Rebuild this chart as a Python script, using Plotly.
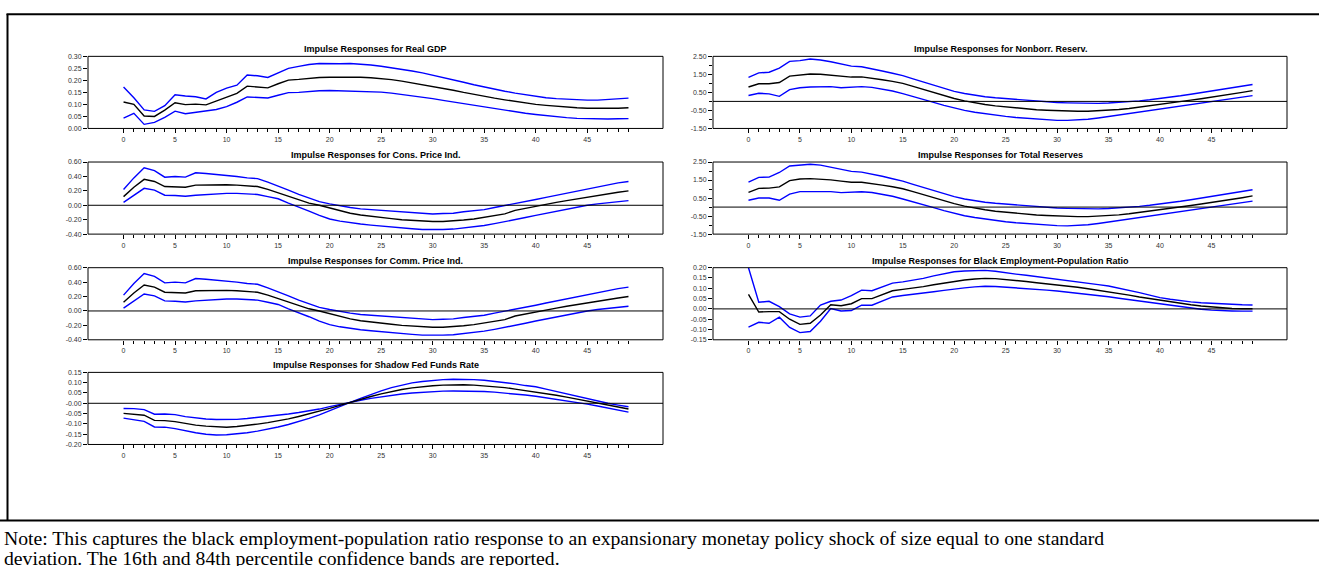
import plotly.graph_objects as go

# ---------------- data ----------------
horizon = list(range(50))
x_tick_vals = [0, 5, 10, 15, 20, 25, 30, 35, 40, 45]
x_tick_text = ["0", "5", "10", "15", "20", "25", "30", "35", "40", "45"]

gdp_upper = [0.172, 0.128, 0.077, 0.071, 0.095, 0.140, 0.135, 0.132, 0.123, 0.150, 0.168, 0.180, 0.222, 0.219, 0.212, 0.232, 0.250, 0.258, 0.266, 0.270, 0.268, 0.269, 0.270, 0.268, 0.264, 0.259, 0.253, 0.246, 0.239, 0.231, 0.222, 0.212, 0.202, 0.192, 0.182, 0.172, 0.163, 0.155, 0.147, 0.140, 0.133, 0.128, 0.124, 0.121, 0.119, 0.118, 0.118, 0.120, 0.123, 0.126]
gdp_center = [0.110, 0.100, 0.052, 0.050, 0.076, 0.107, 0.099, 0.101, 0.098, 0.113, 0.129, 0.146, 0.176, 0.173, 0.169, 0.186, 0.201, 0.204, 0.209, 0.212, 0.213, 0.214, 0.215, 0.213, 0.211, 0.208, 0.203, 0.197, 0.190, 0.183, 0.176, 0.168, 0.159, 0.150, 0.141, 0.133, 0.126, 0.119, 0.112, 0.106, 0.100, 0.096, 0.092, 0.089, 0.086, 0.084, 0.083, 0.083, 0.084, 0.086]
gdp_lower = [0.043, 0.063, 0.017, 0.025, 0.046, 0.072, 0.061, 0.067, 0.072, 0.079, 0.091, 0.109, 0.131, 0.128, 0.127, 0.138, 0.149, 0.150, 0.154, 0.157, 0.158, 0.157, 0.156, 0.155, 0.153, 0.151, 0.147, 0.142, 0.136, 0.130, 0.124, 0.117, 0.110, 0.103, 0.096, 0.089, 0.082, 0.076, 0.069, 0.063, 0.058, 0.053, 0.049, 0.045, 0.042, 0.040, 0.039, 0.039, 0.040, 0.041]

nbr_upper = [1.33, 1.58, 1.62, 1.85, 2.22, 2.26, 2.35, 2.30, 2.20, 2.08, 1.96, 1.92, 1.82, 1.69, 1.56, 1.43, 1.25, 1.07, 0.90, 0.72, 0.56, 0.44, 0.34, 0.26, 0.20, 0.15, 0.11, 0.06, 0.02, -0.02, -0.06, -0.08, -0.10, -0.11, -0.11, -0.09, -0.06, -0.02, 0.03, 0.09, 0.15, 0.23, 0.31, 0.40, 0.49, 0.58, 0.67, 0.76, 0.85, 0.94]
nbr_center = [0.80, 0.98, 0.98, 1.05, 1.40, 1.48, 1.52, 1.51, 1.47, 1.40, 1.35, 1.36, 1.30, 1.20, 1.11, 1.00, 0.83, 0.66, 0.48, 0.32, 0.16, 0.03, -0.08, -0.17, -0.25, -0.31, -0.37, -0.42, -0.46, -0.49, -0.52, -0.54, -0.55, -0.55, -0.53, -0.50, -0.45, -0.39, -0.32, -0.25, -0.17, -0.09, -0.01, 0.07, 0.15, 0.23, 0.32, 0.41, 0.50, 0.60]
nbr_lower = [0.33, 0.45, 0.42, 0.28, 0.65, 0.76, 0.80, 0.82, 0.82, 0.76, 0.78, 0.82, 0.78, 0.70, 0.58, 0.43, 0.28, 0.13, -0.05, -0.22, -0.38, -0.50, -0.60, -0.69, -0.77, -0.83, -0.89, -0.94, -0.99, -1.02, -1.05, -1.05, -1.03, -0.99, -0.92, -0.84, -0.76, -0.68, -0.60, -0.52, -0.44, -0.36, -0.28, -0.20, -0.12, -0.04, 0.05, 0.14, 0.23, 0.32]

cpi_upper = [0.22, 0.38, 0.52, 0.48, 0.39, 0.40, 0.39, 0.45, 0.44, 0.43, 0.42, 0.40, 0.38, 0.37, 0.32, 0.27, 0.21, 0.15, 0.10, 0.05, 0.02, -0.01, -0.03, -0.05, -0.06, -0.07, -0.08, -0.09, -0.10, -0.11, -0.12, -0.115, -0.11, -0.09, -0.075, -0.06, -0.03, -0.005, 0.02, 0.05, 0.08, 0.11, 0.14, 0.17, 0.20, 0.23, 0.26, 0.29, 0.31, 0.33]
cpi_center = [0.12, 0.25, 0.36, 0.33, 0.26, 0.26, 0.25, 0.28, 0.285, 0.29, 0.285, 0.28, 0.27, 0.26, 0.22, 0.17, 0.12, 0.07, 0.03, 0.00, -0.04, -0.08, -0.11, -0.135, -0.155, -0.17, -0.185, -0.20, -0.21, -0.22, -0.225, -0.225, -0.22, -0.205, -0.19, -0.17, -0.145, -0.12, -0.07, -0.04, -0.015, 0.01, 0.04, 0.065, 0.09, 0.115, 0.14, 0.16, 0.18, 0.20]
cpi_lower = [0.04, 0.14, 0.235, 0.21, 0.14, 0.135, 0.125, 0.14, 0.15, 0.16, 0.165, 0.165, 0.16, 0.15, 0.12, 0.09, 0.03, -0.02, -0.08, -0.14, -0.19, -0.22, -0.245, -0.26, -0.275, -0.29, -0.30, -0.315, -0.325, -0.335, -0.34, -0.335, -0.33, -0.315, -0.30, -0.28, -0.255, -0.23, -0.20, -0.17, -0.14, -0.11, -0.085, -0.06, -0.03, 0.00, 0.02, 0.035, 0.05, 0.065]

trs_upper = [1.38, 1.65, 1.66, 1.92, 2.28, 2.33, 2.38, 2.33, 2.22, 2.10, 1.98, 1.94, 1.84, 1.71, 1.57, 1.44, 1.26, 1.08, 0.91, 0.74, 0.58, 0.45, 0.35, 0.27, 0.21, 0.16, 0.12, 0.07, 0.03, -0.01, -0.05, -0.07, -0.09, -0.10, -0.10, -0.08, -0.05, -0.01, 0.04, 0.10, 0.16, 0.24, 0.32, 0.41, 0.50, 0.59, 0.68, 0.77, 0.86, 0.96]
trs_center = [0.82, 1.04, 1.05, 1.12, 1.47, 1.56, 1.58, 1.56, 1.51, 1.44, 1.38, 1.38, 1.32, 1.22, 1.13, 1.02, 0.86, 0.69, 0.51, 0.35, 0.19, 0.05, -0.06, -0.15, -0.23, -0.29, -0.35, -0.40, -0.44, -0.47, -0.50, -0.52, -0.53, -0.53, -0.51, -0.48, -0.43, -0.37, -0.30, -0.23, -0.15, -0.07, 0.01, 0.09, 0.17, 0.25, 0.34, 0.43, 0.52, 0.62]
trs_lower = [0.38, 0.50, 0.50, 0.38, 0.72, 0.86, 0.86, 0.87, 0.86, 0.80, 0.81, 0.85, 0.81, 0.72, 0.60, 0.45, 0.30, 0.15, -0.03, -0.20, -0.36, -0.48, -0.58, -0.67, -0.75, -0.81, -0.87, -0.92, -0.97, -1.00, -1.03, -1.04, -1.02, -0.98, -0.91, -0.83, -0.75, -0.67, -0.59, -0.51, -0.43, -0.35, -0.27, -0.19, -0.11, -0.03, 0.06, 0.15, 0.24, 0.33]

cmp_upper = [0.22, 0.38, 0.52, 0.48, 0.39, 0.40, 0.39, 0.45, 0.44, 0.43, 0.42, 0.40, 0.38, 0.37, 0.32, 0.27, 0.21, 0.15, 0.10, 0.05, 0.02, -0.01, -0.03, -0.05, -0.06, -0.07, -0.08, -0.09, -0.10, -0.11, -0.12, -0.115, -0.11, -0.09, -0.075, -0.06, -0.03, -0.005, 0.02, 0.05, 0.08, 0.11, 0.14, 0.17, 0.20, 0.23, 0.26, 0.29, 0.31, 0.33]
cmp_center = [0.12, 0.25, 0.36, 0.33, 0.26, 0.26, 0.25, 0.28, 0.285, 0.29, 0.285, 0.28, 0.27, 0.26, 0.22, 0.17, 0.12, 0.07, 0.03, 0.00, -0.04, -0.08, -0.11, -0.135, -0.155, -0.17, -0.185, -0.20, -0.21, -0.22, -0.225, -0.225, -0.22, -0.205, -0.19, -0.17, -0.145, -0.12, -0.07, -0.04, -0.015, 0.01, 0.04, 0.065, 0.09, 0.115, 0.14, 0.16, 0.18, 0.20]
cmp_lower = [0.04, 0.14, 0.235, 0.21, 0.14, 0.135, 0.125, 0.14, 0.15, 0.16, 0.165, 0.165, 0.16, 0.15, 0.12, 0.09, 0.03, -0.02, -0.08, -0.14, -0.19, -0.22, -0.245, -0.26, -0.275, -0.29, -0.30, -0.315, -0.325, -0.335, -0.34, -0.335, -0.33, -0.315, -0.30, -0.28, -0.255, -0.23, -0.20, -0.17, -0.14, -0.11, -0.085, -0.06, -0.03, 0.00, 0.02, 0.035, 0.05, 0.065]

bep_upper = [0.200, 0.032, 0.037, 0.011, -0.024, -0.040, -0.034, 0.019, 0.037, 0.043, 0.064, 0.091, 0.088, 0.107, 0.125, 0.131, 0.138, 0.148, 0.160, 0.170, 0.180, 0.184, 0.186, 0.187, 0.183, 0.175, 0.169, 0.163, 0.157, 0.150, 0.144, 0.138, 0.131, 0.125, 0.118, 0.111, 0.101, 0.090, 0.079, 0.067, 0.055, 0.047, 0.040, 0.034, 0.030, 0.027, 0.024, 0.021, 0.020, 0.019]
bep_center = [0.070, -0.015, -0.013, -0.013, -0.050, -0.075, -0.070, -0.030, 0.020, 0.015, 0.025, 0.050, 0.050, 0.070, 0.088, 0.095, 0.100, 0.108, 0.117, 0.125, 0.135, 0.140, 0.145, 0.148, 0.147, 0.143, 0.138, 0.133, 0.127, 0.122, 0.117, 0.111, 0.105, 0.098, 0.091, 0.083, 0.075, 0.067, 0.058, 0.050, 0.042, 0.034, 0.027, 0.020, 0.014, 0.009, 0.005, 0.002, 0.001, 0.001]
bep_lower = [-0.088, -0.065, -0.070, -0.040, -0.090, -0.115, -0.110, -0.060, 0.002, -0.010, -0.008, 0.018, 0.018, 0.040, 0.058, 0.065, 0.070, 0.076, 0.083, 0.090, 0.097, 0.102, 0.107, 0.110, 0.109, 0.106, 0.103, 0.099, 0.095, 0.091, 0.087, 0.082, 0.077, 0.072, 0.066, 0.059, 0.052, 0.045, 0.038, 0.030, 0.023, 0.016, 0.009, 0.003, -0.002, -0.006, -0.009, -0.010, -0.011, -0.011]

sff_band_a = [-0.025, -0.026, -0.031, -0.053, -0.052, -0.055, -0.065, -0.071, -0.076, -0.079, -0.080, -0.078, -0.074, -0.069, -0.064, -0.058, -0.052, -0.045, -0.037, -0.028, -0.016, -0.005, 0.006, 0.015, 0.024, 0.032, 0.039, 0.045, 0.050, 0.054, 0.057, 0.059, 0.060, 0.060, 0.059, 0.057, 0.054, 0.050, 0.045, 0.040, 0.034, 0.027, 0.020, 0.012, 0.004, -0.004, -0.013, -0.022, -0.032, -0.043]
sff_center = [-0.049, -0.052, -0.058, -0.083, -0.084, -0.089, -0.099, -0.106, -0.111, -0.115, -0.116, -0.113, -0.108, -0.101, -0.094, -0.086, -0.076, -0.064, -0.052, -0.039, -0.025, -0.010, 0.005, 0.019, 0.033, 0.046, 0.057, 0.067, 0.075, 0.081, 0.085, 0.088, 0.090, 0.090, 0.088, 0.085, 0.081, 0.076, 0.069, 0.062, 0.055, 0.047, 0.039, 0.030, 0.021, 0.011, 0.002, -0.008, -0.018, -0.028]
sff_band_b = [-0.072, -0.079, -0.088, -0.115, -0.116, -0.123, -0.134, -0.143, -0.150, -0.154, -0.153, -0.149, -0.143, -0.135, -0.126, -0.115, -0.103, -0.089, -0.073, -0.056, -0.037, -0.017, 0.004, 0.024, 0.043, 0.060, 0.076, 0.089, 0.099, 0.106, 0.111, 0.115, 0.117, 0.117, 0.115, 0.112, 0.107, 0.101, 0.094, 0.086, 0.080, 0.069, 0.057, 0.045, 0.033, 0.021, 0.010, 0.000, -0.009, -0.017]

gdp_ticks = [0.00, 0.05, 0.10, 0.15, 0.20, 0.25, 0.30]
gdp_labels = ["0.00", "0.05", "0.10", "0.15", "0.20", "0.25", "0.30"]
res_ticks = [-1.5, -0.5, 0.5, 1.5, 2.5]
res_labels = ["-1.50", "-0.50", "0.50", "1.50", "2.50"]
res_minor = [-1.0, 0.0, 1.0, 2.0]
price_ticks = [-0.4, -0.2, 0.0, 0.2, 0.4, 0.6]
price_labels = ["-0.40", "-0.20", "0.00", "0.20", "0.40", "0.60"]
bep_ticks = [-0.15, -0.10, -0.05, 0.00, 0.05, 0.10, 0.15, 0.20]
bep_labels = ["-0.15", "-0.10", "-0.05", "0.00", "0.05", "0.10", "0.15", "0.20"]
sff_ticks = [-0.20, -0.15, -0.10, -0.05, 0.00, 0.05, 0.10, 0.15]
sff_labels = ["-0.20", "-0.15", "-0.10", "-0.05", "-0.00", "0.05", "0.10", "0.15"]

note_line1 = ("Note: This captures the black employment-population ratio response to an expansionary "
              "monetay policy shock of size equal to one standard")
note_line2 = "deviation. The 16th and 84th percentile confidence bands are reported."

# ---------------- layout geometry ----------------
W, H = 1319, 566
def fx(px):
    return px / W
def fy(py):
    return 1 - py / H

col_px = [(88, 663), (713, 1287)]
row_top = [53, 160, 267, 373]
panel_h = 73

panels = [
    ("Impulse Responses for Real GDP", 0, 0, gdp_upper, gdp_center, gdp_lower, [0, 0.30], gdp_ticks, gdp_labels, None, False),
    ("Impulse Responses for Nonborr. Reserv.", 1, 0, nbr_upper, nbr_center, nbr_lower, [-1.5, 2.5], res_ticks, res_labels, res_minor, True),
    ("Impulse Responses for Cons. Price Ind.", 0, 1, cpi_upper, cpi_center, cpi_lower, [-0.4, 0.6], price_ticks, price_labels, None, True),
    ("Impulse Responses for Total Reserves", 1, 1, trs_upper, trs_center, trs_lower, [-1.5, 2.5], res_ticks, res_labels, res_minor, True),
    ("Impulse Responses for Comm. Price Ind.", 0, 2, cmp_upper, cmp_center, cmp_lower, [-0.4, 0.6], price_ticks, price_labels, None, True),
    ("Impulse Responses for Black Employment-Population Ratio", 1, 2, bep_upper, bep_center, bep_lower, [-0.15, 0.20], bep_ticks, bep_labels, None, True),
    ("Impulse Responses for Shadow Fed Funds Rate", 0, 3, sff_band_a, sff_center, sff_band_b, [-0.20, 0.15], sff_ticks, sff_labels, None, True),
]

fig = go.Figure()
layout = dict(
    width=W, height=H, margin=dict(l=0, r=0, t=0, b=0),
    paper_bgcolor="white", plot_bgcolor="white", showlegend=False,
)
shapes = []
annotations = []
tickfont = dict(family="Arial", size=7, color="#333333")

for i, (title, col, row, up, ce, lo, yr, tv, tt, mv, zl) in enumerate(panels, start=1):
    sfx = "" if i == 1 else str(i)
    xa, ya = "x" + sfx, "y" + sfx
    x0, x1 = col_px[col]
    top = row_top[row]
    bot = top + panel_h
    for series, color in ((up, "#0000FF"), (lo, "#0000FF"), (ce, "#000000")):
        fig.add_trace(go.Scatter(x=horizon, y=series, mode="lines", xaxis=xa, yaxis=ya,
                                 line=dict(color=color, width=1.4), hoverinfo="skip"))
    layout["xaxis" + sfx] = dict(
        domain=[fx(x0), fx(x1)], range=[-3.45, 52.35], anchor=ya,
        tickmode="array", tickvals=x_tick_vals, ticktext=x_tick_text,
        ticks="outside", ticklen=4, tickwidth=1, tickcolor="#000000", tickfont=tickfont,
        showgrid=False, zeroline=False, showline=False, fixedrange=True,
        minor=dict(tickmode="array", tickvals=horizon, ticks="outside", ticklen=3,
                   tickwidth=1, tickcolor="#000000", showgrid=False),
    )
    yax = dict(
        domain=[fy(bot), fy(top)], range=yr, anchor=xa,
        tickmode="array", tickvals=tv, ticktext=tt,
        ticks="outside", ticklen=4, tickwidth=1, tickcolor="#000000", tickfont=tickfont,
        showgrid=False, zeroline=False, showline=False, fixedrange=True,
    )
    if mv:
        yax["minor"] = dict(tickmode="array", tickvals=mv, ticks="outside", ticklen=3,
                            tickwidth=1, tickcolor="#000000", showgrid=False)
    layout["yaxis" + sfx] = yax
    shapes.append(dict(type="rect", xref=xa + " domain", yref=ya + " domain",
                       x0=0, x1=1, y0=0, y1=1, line=dict(color="#000000", width=1)))
    if zl:
        shapes.append(dict(type="line", xref=xa + " domain", yref=ya, x0=0, x1=1, y0=0, y1=0,
                           line=dict(color="#000000", width=1)))
    annotations.append(dict(text="<b>" + title + "</b>", xref="paper", yref="paper",
                            x=fx((x0 + x1) / 2), y=fy(top - 7), xanchor="center", yanchor="middle",
                            showarrow=False, font=dict(family="Arial", size=9, color="#000000")))

# outer frame
shapes.append(dict(type="line", xref="paper", yref="paper", x0=fx(6.5), x1=1, y0=fy(10.5), y1=fy(10.5),
                   line=dict(color="#000000", width=2)))
shapes.append(dict(type="line", xref="paper", yref="paper", x0=fx(7.5), x1=fx(7.5), y0=fy(10), y1=fy(523),
                   line=dict(color="#000000", width=2)))
shapes.append(dict(type="line", xref="paper", yref="paper", x0=0, x1=1, y0=fy(523), y1=fy(523),
                   line=dict(color="#000000", width=2)))

annotations.append(dict(text=note_line1, xref="paper", yref="paper", x=fx(2), y=fy(541),
                        xanchor="left", yanchor="middle", showarrow=False,
                        font=dict(family="Liberation Serif", size=19.7, color="#000000")))
annotations.append(dict(text=note_line2, xref="paper", yref="paper", x=fx(2), y=fy(561),
                        xanchor="left", yanchor="middle", showarrow=False,
                        font=dict(family="Liberation Serif", size=19.7, color="#000000")))

layout["shapes"] = shapes
layout["annotations"] = annotations
fig.update_layout(**layout)
fig.write_html("out.html", config={"displayModeBar": False},
               post_script="document.body.style.margin='0';document.body.style.overflow='hidden';")
